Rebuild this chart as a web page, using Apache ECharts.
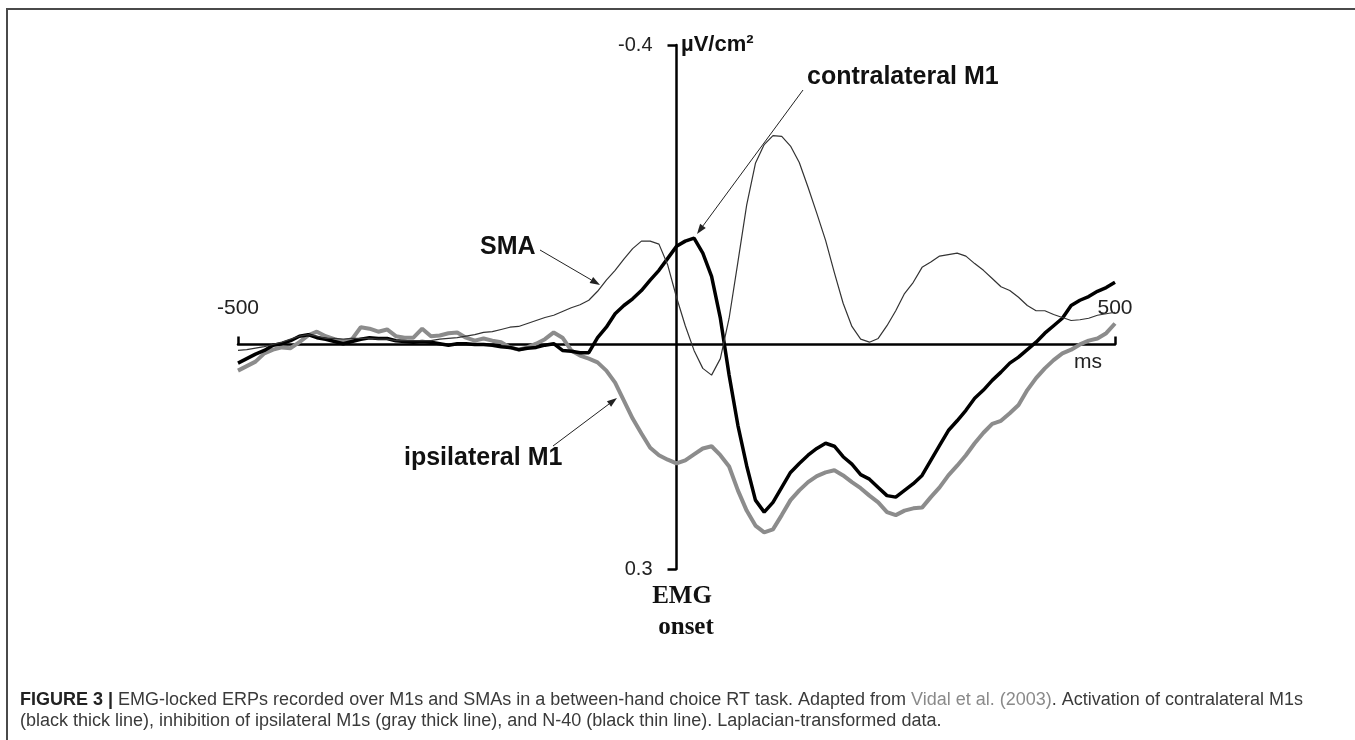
<!DOCTYPE html>
<html><head><meta charset="utf-8">
<script src="https://cdn.jsdelivr.net/npm/echarts@6/dist/echarts.min.js"></script>
<style>html,body{margin:0;padding:0;background:#fff;}#c{width:1355px;height:740px;}</style>
</head><body><div id="c"></div>
<script>
// time (ms, relative to EMG onset)
const timeMs = [-500,-490,-480,-470,-460,-450,-440,-430,-420,-410,-400,-390,-380,-370,-360,-350,-340,-330,-320,-310,-300,-290,-280,-270,-260,-250,-240,-230,-220,-210,-200,-190,-180,-170,-160,-150,-140,-130,-120,-110,-100,-90,-80,-70,-60,-50,-40,-30,-20,-10,0,10,20,30,40,50,60,70,80,90,100,110,120,130,140,150,160,170,180,190,200,210,220,230,240,250,260,270,280,290,300,310,320,330,340,350,360,370,380,390,400,410,420,430,440,450,460,470,480,490,500];
// µV/cm² (negative up)
const contralateralM1 = [0.025,0.019,0.013,0.008,0.001,-0.001,-0.005,-0.011,-0.013,-0.009,-0.007,-0.004,-0.001,-0.004,-0.007,-0.009,-0.008,-0.008,-0.005,-0.004,-0.003,-0.004,-0.003,-0.001,0.001,-0.001,-0.001,0.000,0.000,0.001,0.003,0.004,0.007,0.005,0.004,0.001,-0.001,0.008,0.009,0.011,0.011,-0.009,-0.023,-0.041,-0.052,-0.061,-0.072,-0.086,-0.099,-0.115,-0.131,-0.138,-0.142,-0.122,-0.091,-0.035,0.041,0.108,0.162,0.208,0.224,0.211,0.191,0.171,0.159,0.148,0.139,0.132,0.136,0.150,0.160,0.174,0.180,0.191,0.202,0.204,0.195,0.186,0.175,0.155,0.135,0.115,0.102,0.088,0.072,0.061,0.048,0.037,0.025,0.017,0.007,-0.003,-0.015,-0.025,-0.035,-0.052,-0.059,-0.064,-0.071,-0.076,-0.083];
const ipsilateralM1 = [0.035,0.029,0.023,0.012,0.007,0.004,0.005,-0.003,-0.012,-0.017,-0.011,-0.007,-0.004,-0.007,-0.023,-0.021,-0.017,-0.020,-0.011,-0.009,-0.009,-0.021,-0.011,-0.012,-0.015,-0.016,-0.009,-0.005,-0.008,-0.005,-0.003,0.004,0.007,0.004,-0.001,-0.007,-0.016,-0.009,0.008,0.015,0.019,0.024,0.035,0.051,0.075,0.099,0.119,0.138,0.148,0.154,0.159,0.155,0.147,0.139,0.136,0.148,0.163,0.195,0.222,0.242,0.251,0.247,0.228,0.208,0.195,0.184,0.176,0.171,0.168,0.175,0.184,0.192,0.202,0.211,0.224,0.228,0.222,0.219,0.218,0.204,0.191,0.175,0.162,0.148,0.132,0.118,0.106,0.102,0.092,0.081,0.061,0.045,0.032,0.021,0.012,0.007,0.000,-0.005,-0.008,-0.015,-0.028];
const smaN40 = [0.008,0.007,0.005,0.003,0.000,-0.003,-0.007,-0.011,-0.013,-0.011,-0.008,-0.008,-0.007,-0.008,-0.008,-0.008,-0.007,-0.007,-0.005,-0.005,-0.005,-0.005,-0.005,-0.007,-0.008,-0.009,-0.011,-0.013,-0.016,-0.017,-0.020,-0.023,-0.024,-0.028,-0.032,-0.036,-0.039,-0.044,-0.049,-0.053,-0.059,-0.071,-0.086,-0.099,-0.114,-0.128,-0.138,-0.138,-0.134,-0.106,-0.063,-0.025,0.008,0.032,0.041,0.019,-0.035,-0.110,-0.186,-0.242,-0.267,-0.279,-0.278,-0.265,-0.243,-0.210,-0.175,-0.139,-0.096,-0.055,-0.024,-0.007,-0.003,-0.008,-0.025,-0.045,-0.068,-0.083,-0.103,-0.110,-0.118,-0.120,-0.122,-0.118,-0.108,-0.099,-0.088,-0.077,-0.072,-0.063,-0.052,-0.045,-0.045,-0.040,-0.036,-0.032,-0.033,-0.035,-0.039,-0.041,-0.043];
const xTickValues = [-500, 500];
const yTickValues = [-0.4, 0.3];
const xUnit = 'ms';
const yUnit = 'µV/cm²';

const pair = arr => timeMs.map((t, i) => [t, arr[i]]);
const SANS = '"Liberation Sans", Arial, sans-serif';
const SERIF = '"Liberation Serif", "Times New Roman", serif';

function arrow(x1, y1, x2, y2) {
  const dx = x2 - x1, dy = y2 - y1, L = Math.hypot(dx, dy), ux = dx / L, uy = dy / L;
  const h = 10, w = 3.5, bx = x2 - ux * h, by = y2 - uy * h;
  return [
    {type: 'line', shape: {x1: x1, y1: y1, x2: bx, y2: by}, style: {stroke: '#222', lineWidth: 1}, silent: true},
    {type: 'polygon', shape: {points: [[x2, y2], [bx - uy * w, by + ux * w], [bx + uy * w, by - ux * w]]}, style: {fill: '#222'}, silent: true}
  ];
}
function label(text, x, y, opts) {
  return {type: 'text', x: x, y: y, silent: true, style: Object.assign({
    text: text, font: 'bold 25px ' + SANS, fill: '#111', align: 'left', verticalAlign: 'middle'}, opts || {})};
}

const chart = echarts.init(document.getElementById('c'), null, {renderer: 'canvas'});
chart.setOption({
  animation: false,
  backgroundColor: '#fff',
  grid: {left: 238, right: 240, top: 45, bottom: 171, containLabel: false},
  xAxis: {
    type: 'value', min: -500, max: 500, interval: 1000,
    axisLine: {onZero: false, lineStyle: {color: '#000', width: 2.5}},
    axisTick: {show: true, inside: true, length: 8, customValues: xTickValues, lineStyle: {color: '#000', width: 2.5}},
    axisLabel: {show: true, inside: true, margin: 26, customValues: xTickValues, showMinLabel: true, showMaxLabel: true,
      fontFamily: SANS, fontSize: 21, color: '#222'},
    splitLine: {show: false}
  },
  yAxis: {
    type: 'value', min: -0.4, max: 0.3, inverse: true, interval: 0.7,
    axisLine: {onZero: false, lineStyle: {color: '#000', width: 2.5}},
    axisTick: {show: true, inside: false, length: 9, customValues: yTickValues, lineStyle: {color: '#000', width: 2.5}},
    axisLabel: {show: true, margin: 24, customValues: yTickValues, showMinLabel: true, showMaxLabel: true,
      fontFamily: SANS, fontSize: 20, color: '#222', formatter: v => String(Math.round(v * 10) / 10)},
    splitLine: {show: false}
  },
  series: [
    {name: 'ipsilateral M1', type: 'line', data: pair(ipsilateralM1), showSymbol: false, smooth: false,
      lineStyle: {color: '#8c8c8c', width: 4}, z: 2},
    {name: 'contralateral M1', type: 'line', data: pair(contralateralM1), showSymbol: false, smooth: false,
      lineStyle: {color: '#000', width: 3.5}, z: 3},
    {name: 'SMA', type: 'line', data: pair(smaN40), showSymbol: false, smooth: false,
      lineStyle: {color: '#333', width: 1.2}, z: 4}
  ],
  graphic: [
    {type: 'rect', shape: {x: 7, y: 9, width: 1400, height: 800}, style: {fill: 'none', stroke: '#4a4a4a', lineWidth: 2}, silent: true},
    label(yUnit, 681, 45, {font: 'bold 22px ' + SANS}),
    label(xUnit, 1088, 362, {font: '21px ' + SANS, fill: '#222', align: 'center'}),
    label('contralateral M1', 807, 77),
    label('SMA', 480, 247),
    label('ipsilateral M1', 404, 458),
    label('EMG', 682, 597, {font: 'bold 25px ' + SERIF, align: 'center'}),
    label('onset', 686, 628, {font: 'bold 25px ' + SERIF, align: 'center'}),
    ...arrow(803, 90, 697, 234),
    ...arrow(540, 250, 600, 285),
    ...arrow(553, 446, 617, 398),
    {type: 'text', x: 20, y: 700, silent: true, style: {
      text: '{b|FIGURE 3 |} EMG-locked ERPs recorded over M1s and SMAs in a between-hand choice RT task. Adapted from {g|Vidal et al. (2003)}. Activation of contralateral M1s',
      font: '18px ' + SANS, fill: '#3a3a3a', verticalAlign: 'middle',
      rich: {b: {fontWeight: 'bold', fontSize: 18, fontFamily: SANS, fill: '#222'}, g: {fontSize: 18, fontFamily: SANS, fill: '#8a8a8a'}}}},
    {type: 'text', x: 20, y: 721, silent: true, style: {
      text: '(black thick line), inhibition of ipsilateral M1s (gray thick line), and N-40 (black thin line). Laplacian-transformed data.',
      font: '18px ' + SANS, fill: '#3a3a3a', verticalAlign: 'middle'}}
  ]
});
// Place each axis at the other axis's zero, via offsets measured through the chart's own scales
const zeroPx = chart.convertToPixel({gridIndex: 0}, [0, 0]);
const cornerPx = chart.convertToPixel({gridIndex: 0}, [-500, 0.3]);
chart.setOption({
  xAxis: {offset: zeroPx[1] - cornerPx[1]},
  yAxis: {offset: cornerPx[0] - zeroPx[0]}
});
</script></body></html>
